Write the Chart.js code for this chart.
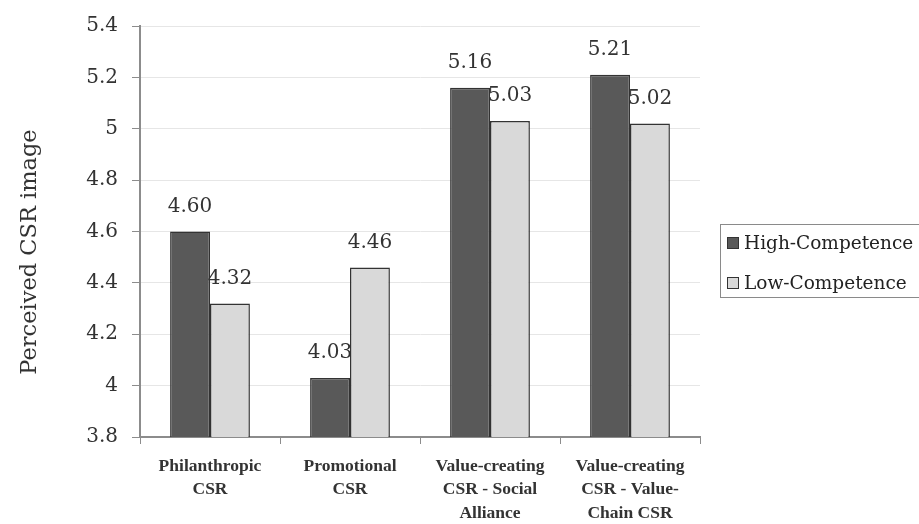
<!DOCTYPE html>
<html>
<head>
<meta charset="utf-8">
<script src="https://cdn.jsdelivr.net/npm/chart.js@4/dist/chart.umd.min.js"></script>
<style>
  body { margin: 0; background: #fff; }
  #wrap { position: relative; width: 919px; height: 524px; }
  #legend {
    position: absolute; left: 720px; top: 224px; width: 210px; height: 72px;
    border: 1px solid #8a8a8a; font-family: "DejaVu Serif", serif; font-size: 18.5px; color: #222;
  }
  .item { position: absolute; left: 6px; display: flex; align-items: center; }
  .sw { width: 10px; height: 10px; border: 1px solid #333; margin-right: 5px; }
</style>
</head>
<body>
<div id="wrap">
  <canvas id="grafico" width="919" height="524"></canvas>
  <div id="legend"></div>
</div>
<script>
// dados
const categorias = [
  ['Philanthropic', 'CSR'],
  ['Promotional', 'CSR'],
  ['Value-creating', 'CSR - Social', 'Alliance'],
  ['Value-creating', 'CSR - Value-', 'Chain CSR']
];
const altaCompetencia = [4.60, 4.03, 5.16, 5.21];
const baixaCompetencia = [4.32, 4.46, 5.03, 5.02];
const nomesSeries = ['High-Competence', 'Low-Competence'];
const coresSeries = ['#595959', '#d9d9d9'];
const tituloY = 'Perceived CSR image';

// desenha os valores acima de cada barra e o título do eixo Y
const rotulosValores = {
  id: 'rotulosValores',
  afterDatasetsDraw(chart) {
    const ctx = chart.ctx;
    ctx.save();
    ctx.font = '20px "DejaVu Serif", serif';
    ctx.fillStyle = '#333';
    ctx.textAlign = 'center';
    ctx.textBaseline = 'middle';
    chart.data.datasets.forEach((ds, i) => {
      chart.getDatasetMeta(i).data.forEach((bar, j) => {
        ctx.fillText(ds.data[j].toFixed(2), bar.x, bar.y - 25);
      });
    });
    // título do eixo, um pouco abaixo do centro como no original
    ctx.translate(30, 252);
    ctx.rotate(-Math.PI / 2);
    ctx.font = '22.5px "DejaVu Serif", serif';
    ctx.fillText(tituloY, 0, 0);
    ctx.restore();
  }
};

const ctx = document.getElementById('grafico').getContext('2d');
new Chart(ctx, {
  type: 'bar',
  data: {
    labels: categorias,
    datasets: [
      { label: nomesSeries[0], data: altaCompetencia, backgroundColor: coresSeries[0], borderColor: '#333', borderWidth: 1.5 },
      { label: nomesSeries[1], data: baixaCompetencia, backgroundColor: coresSeries[1], borderColor: '#333', borderWidth: 1.5 }
    ]
  },
  options: {
    responsive: false,
    animation: false,
    layout: { padding: { top: 22, right: 219, left: 0, bottom: 0 } },
    plugins: { legend: { display: false }, tooltip: { enabled: false } },
    datasets: { bar: { categoryPercentage: 0.57, barPercentage: 1 } },
    scales: {
      y: {
        min: 3.8, max: 5.4,
        afterFit: s => { s.width = 140; },
        ticks: { stepSize: 0.2, padding: 14, color: '#333', font: { family: '"DejaVu Serif", serif', size: 20 },
          callback: v => Number(v.toFixed(1)).toString() },
        grid: { color: '#e6e6e6', tickLength: 8, tickColor: '#8c8c8c' },
        border: { color: '#8c8c8c', width: 2 }
      },
      x: {
        afterFit: s => { s.height = 87; },
        ticks: { padding: 10, color: '#333', maxRotation: 0, autoSkip: false,
          font: { family: '"Liberation Serif", serif', size: 17.5, weight: 'bold', lineHeight: 1.37 } },
        grid: { offset: true, drawOnChartArea: false, tickLength: 7, color: '#8c8c8c' },
        border: { color: '#8c8c8c', width: 2 }
      }
    }
  },
  plugins: [rotulosValores]
});

// legenda com borda, como no original
const legenda = document.getElementById('legend');
nomesSeries.forEach((nome, i) => {
  const item = document.createElement('div');
  item.className = 'item';
  item.style.top = (i === 0 ? 7 : 47) + 'px';
  item.innerHTML = '<span class="sw" style="background:' + coresSeries[i] + '"></span>' + nome;
  legenda.appendChild(item);
});
</script>
</body>
</html>
